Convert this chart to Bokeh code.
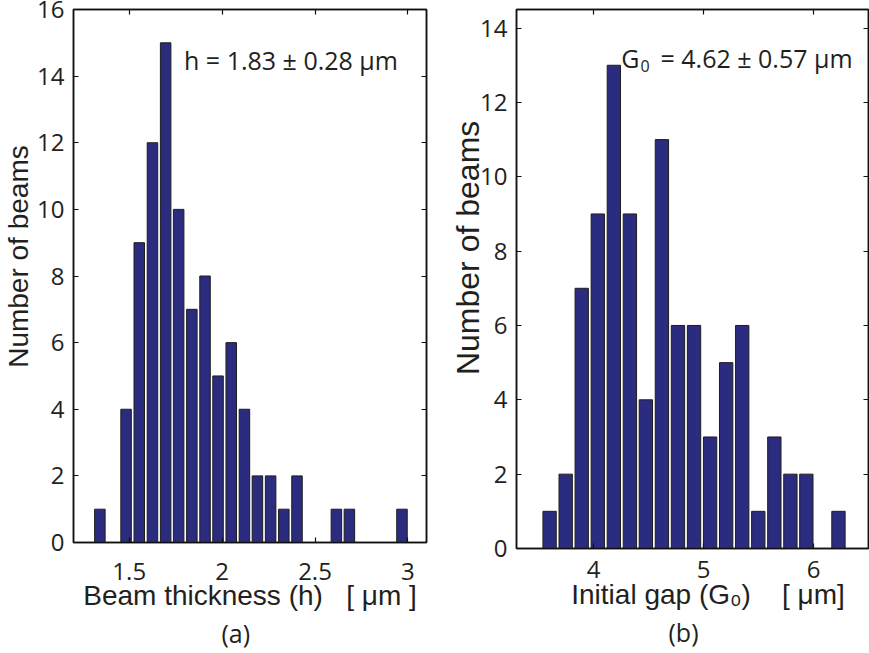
import math
from bokeh.plotting import figure
from bokeh.layouts import row
from bokeh.models import Range1d, LinearAxis, FixedTicker, Label, Title
from bokeh.embed import file_html
from bokeh.resources import INLINE

# ---- data ----
h_centers = [1.342, 1.413, 1.483, 1.554, 1.625, 1.696, 1.766, 1.837, 1.908, 1.978,
             2.049, 2.120, 2.190, 2.261, 2.332, 2.403, 2.473, 2.544, 2.615, 2.685,
             2.756, 2.827, 2.898, 2.968]
h_counts = [1, 0, 4, 9, 12, 15, 10, 7, 8, 5,
            6, 4, 2, 2, 1, 2, 0, 0, 1, 1,
            0, 0, 0, 1]
h_bin = 0.0707

g_centers = [3.601, 3.747, 3.893, 4.039, 4.185, 4.331, 4.476, 4.622, 4.768, 4.914,
             5.060, 5.206, 5.352, 5.498, 5.644, 5.790, 5.935, 6.081, 6.227]
g_counts = [1, 2, 7, 9, 13, 9, 4, 11, 6, 6,
            3, 5, 6, 1, 3, 2, 2, 0, 1]
g_bin = 0.1459

h_xticks = [1.5, 2, 2.5, 3]
h_yticks = [0, 2, 4, 6, 8, 10, 12, 14, 16]
g_xticks = [4, 5, 6]
g_yticks = [0, 2, 4, 6, 8, 10, 12, 14]

BAR = "#2B2C7F"
EDGE = "#1e1e1e"
TXT = "#231F20"
TICKFONT = "Open Sans"
LABFONT = "Liberation Sans"
NB = "\u00a0"


def style_axis(ax, ticks, hidden=False, standoff=10):
    ax.ticker = FixedTicker(ticks=ticks)
    ax.major_tick_in = 5
    ax.major_tick_out = 0
    ax.minor_tick_line_color = None
    ax.axis_line_width = 1.5
    ax.axis_line_color = "#111111"
    ax.major_tick_line_width = 1.2
    ax.major_tick_line_color = "#111111"
    if hidden:
        ax.major_label_text_font_size = "1px"
        ax.major_label_text_color = None
        ax.major_label_standoff = 0
    else:
        ax.major_label_text_font = TICKFONT
        ax.major_label_text_font_size = "24px"
        ax.major_label_text_color = TXT
        ax.major_label_standoff = standoff
        ax.axis_label_text_font = LABFONT
        ax.axis_label_text_font_size = "28px"
        ax.axis_label_text_font_style = "normal"
        ax.axis_label_text_color = TXT


def make_fig(xr, yr, fw, fh, bl, br, bt, bb, xt, yt, xstand, ystand,
             xlabel, xlstand, ylabel, ylstand, ylsize):
    p = figure(x_range=Range1d(*xr), y_range=Range1d(*yr),
               frame_width=fw, frame_height=fh,
               min_border_left=bl, min_border_right=br,
               min_border_top=bt, min_border_bottom=bb,
               output_backend="svg", toolbar_location=None)
    p.grid.grid_line_color = None
    p.outline_line_color = "#111111"
    p.outline_line_width = 1.5
    p.background_fill_color = "white"
    p.border_fill_color = "white"
    bottom = p.below[0]
    left = p.left[0]
    style_axis(bottom, xt, standoff=xstand)
    style_axis(left, yt, standoff=ystand)
    bottom.axis_label = xlabel
    bottom.axis_label_standoff = xlstand
    left.axis_label = ylabel
    left.axis_label_standoff = ylstand
    left.axis_label_text_font_size = ylsize
    top = LinearAxis()
    style_axis(top, xt, hidden=True)
    right = LinearAxis()
    style_axis(right, yt, hidden=True)
    p.add_layout(top, "above")
    p.add_layout(right, "right")
    return p


def caption(p, text, offset):
    p.add_layout(Title(text=text, align="left", offset=offset,
                       text_font=TICKFONT, text_font_size="25px",
                       text_font_style="normal", text_color=TXT,
                       standoff=0), "below")


def lab(p, x, y, text, size="25px"):
    p.add_layout(Label(x=x, y=y, text=text, text_font=TICKFONT, text_font_size=size,
                       text_color=TXT, text_align="left", text_baseline="alphabetic"))


# ---- left panel (a) ----
p1 = make_fig((1.2, 3.1), (0, 16), 353, 533, 73, 14, 9, 111,
              h_xticks, h_yticks, 20, 9,
              "Beam thickness (h)" + NB * 3 + "[ \u03bcm ]", -3,
              NB * 5 + "Number of beams", 0, "28px")
p1.vbar(x=h_centers, top=h_counts, width=h_bin * 0.8,
        fill_color=BAR, line_color=EDGE, line_width=1)
caption(p1, "(a)", 148)
lab(p1, 1.795, 14.49, "h = 1.83 \u00b1 0.28 \u03bcm")

# ---- right panel (b) ----
p2 = make_fig((3.3, 6.5), (0, 14.5), 352, 539, 76, 1, 6, 108,
              g_xticks, g_yticks, 12, 9,
              NB * 4 + "Initial gap (G\u2080)" + NB * 4 + "[ \u03bcm]", -2,
              NB * 7 + "Number of beams", -9, "32px")
p2.vbar(x=g_centers, top=g_counts, width=g_bin * 0.83,
        fill_color=BAR, line_color=EDGE, line_width=1)
caption(p2, "(b)", 152)
# annotation with subscript
lab(p2, 3.3 + (620.7 - 516) / 110.0, 13.19, "G")
lab(p2, 3.3 + (640 - 516) / 110.0, 12.98, "0", size="16px")
lab(p2, 3.3 + (660 - 516) / 110.0, 13.19, "= 4.62 \u00b1 0.57 \u03bcm")

layout = row(p1, p2)
open("out.html", "w").write(file_html(layout, INLINE))
